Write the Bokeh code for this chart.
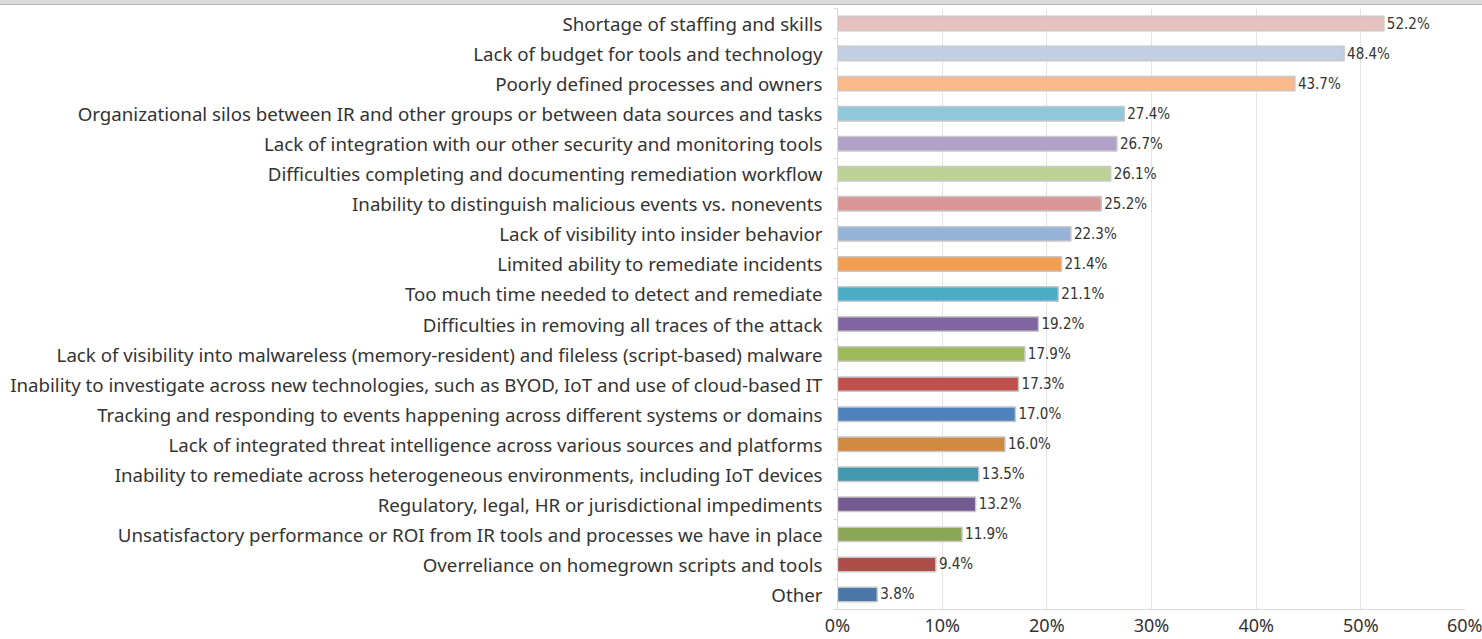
from bokeh.plotting import figure
from bokeh.models import ColumnDataSource, FixedTicker, PrintfTickFormatter, LabelSet, Range1d, Div
from bokeh.layouts import column
from bokeh.core.properties import value
from bokeh.embed import file_html
from bokeh.resources import INLINE

categories = [
    "Shortage of staffing and skills",
    "Lack of budget for tools and technology",
    "Poorly defined processes and owners",
    "Organizational silos between IR and other groups or between data sources and tasks",
    "Lack of integration with our other security and monitoring tools",
    "Difficulties completing and documenting remediation workflow",
    "Inability to distinguish malicious events vs. nonevents",
    "Lack of visibility into insider behavior",
    "Limited ability to remediate incidents",
    "Too much time needed to detect and remediate",
    "Difficulties in removing all traces of the attack",
    "Lack of visibility into malwareless (memory-resident) and fileless (script-based) malware",
    "Inability to investigate across new technologies, such as BYOD, IoT and use of cloud-based IT",
    "Tracking and responding to events happening across different systems or domains",
    "Lack of integrated threat intelligence across various sources and platforms",
    "Inability to remediate across heterogeneous environments, including IoT devices",
    "Regulatory, legal, HR or jurisdictional impediments",
    "Unsatisfactory performance or ROI from IR tools and processes we have in place",
    "Overreliance on homegrown scripts and tools",
    "Other",
]
values = [52.2, 48.4, 43.7, 27.4, 26.7, 26.1, 25.2, 22.3, 21.4, 21.1,
          19.2, 17.9, 17.3, 17.0, 16.0, 13.5, 13.2, 11.9, 9.4, 3.8]
colors = ["#E6C1C0", "#C3CDE3", "#F9B98A", "#8FC8D8", "#B1A0C7", "#BDD395",
          "#D99694", "#95B3D7", "#F29D4E", "#4BACC6", "#8064A2", "#9BBB59",
          "#C0504D", "#4F81BD", "#D08A3F", "#4198AF", "#735B91", "#8BA755",
          "#AE4D4A", "#4A76A8"]
x_ticks = [0, 10, 20, 30, 40, 50, 60]

n = len(categories)
ypos = [n - 1 - i for i in range(n)]  # first category at top
labels_txt = [f"{v:.1f}%" for v in values]

src = ColumnDataSource(dict(y=ypos, v=values, c=colors, t=labels_txt, cat=categories))

band = Div(width=1482, height=5, text="", margin=0,
           styles={"background-color": "#DCDCDC", "border-bottom": "1px solid #B4B4B4",
                   "box-sizing": "border-box"})

p = figure(width=1482, height=634, output_backend="svg", toolbar_location=None,
           x_range=Range1d(0, 60), y_range=Range1d(-0.5, n - 0.5),
           min_border_left=837, min_border_right=17, min_border_top=3,
           min_border_bottom=29, margin=0)
p.outline_line_color = None
p.background_fill_color = "white"
p.border_fill_color = "white"

p.hbar(y="y", right="v", left=0, height=0.48, fill_color="c", line_color="#C8C8C8",
       line_width=1.5, source=src)

lbl = LabelSet(x="v", y="y", text="t", source=src, x_offset=3, y_offset=0,
               text_baseline="middle", text_align="left", text_font_size="15px",
               text_font=value("DejaVu Sans Condensed, Liberation Sans Narrow, Roboto Condensed, Roboto"),
               text_color="#333333")
p.add_layout(lbl)

# x axis
p.xaxis.ticker = FixedTicker(ticks=x_ticks)
p.xaxis.formatter = PrintfTickFormatter(format="%d%%")
p.xaxis.axis_line_color = "#D9D9D9"
p.xaxis.major_tick_line_color = None
p.xaxis.major_tick_out = 0
p.xaxis.major_tick_in = 0
p.xaxis.minor_tick_line_color = None
p.xaxis.minor_tick_out = 0
p.xaxis.major_label_text_font_size = "18px"
p.xaxis.major_label_text_font = "Noto Sans"
p.xaxis.major_label_text_color = "#333333"
p.xaxis.major_label_standoff = 3

# y axis
p.yaxis.ticker = FixedTicker(ticks=ypos, minor_ticks=[y + 0.5 for y in range(-1, n)])
p.yaxis.major_label_overrides = {y: c for y, c in zip(ypos, categories)}
p.yaxis.axis_line_color = "#D9D9D9"
p.yaxis.major_tick_line_color = None
p.yaxis.minor_tick_line_color = "#D9D9D9"
p.yaxis.minor_tick_out = 4
p.yaxis.minor_tick_in = 0
p.yaxis.major_label_text_font_size = "18.7px"
p.yaxis.major_label_text_font = "Noto Sans"
p.yaxis.major_label_text_color = "#333333"
p.yaxis.major_label_standoff = 9

p.xgrid.ticker = FixedTicker(ticks=x_ticks)
p.xgrid.grid_line_color = "#E3E3E3"
p.ygrid.grid_line_color = None

layout = column(band, p, spacing=0, margin=0)
open("out.html", "w").write(file_html(layout, INLINE))
